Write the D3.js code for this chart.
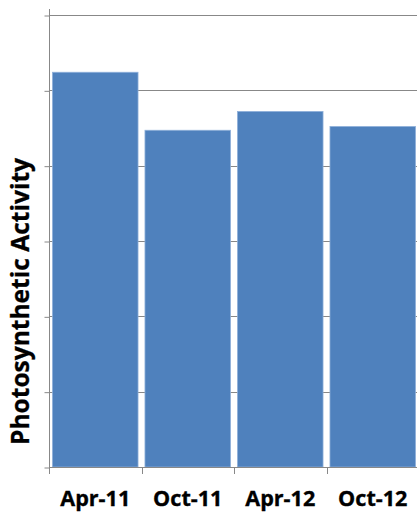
<!DOCTYPE html>
<html><head><meta charset="utf-8">
<script src="https://cdn.jsdelivr.net/npm/d3@7"></script>
<style>html,body{margin:0;padding:0;background:#fff;}</style>
</head><body>
<svg id="c" width="417" height="512"></svg>
<script>
const categories = ["Apr-11", "Oct-11", "Apr-12", "Oct-12"];
const values = [5.24, 4.47, 4.72, 4.52];
const yTicks = [0, 1, 2, 3, 4, 5, 6];
const yTitle = "Photosynthetic Activity";

(function () {
const svg = d3.select("#c");
const pl = 49, pr = 419, pt = 15, pb = 467;
const x = d3.scaleBand().domain(categories).range([pl, pr]).paddingInner(0.075).paddingOuter(0.0375);
const xb = d3.scaleBand().domain(categories).range([pl, pr]);
const y = d3.scaleLinear().domain([0, 6]).range([pb, pt]);
const grid = "#888888";
const font = "'Open Sans', Lato, sans-serif";

// gridlines
svg.append("g").selectAll("line").data(yTicks.filter(d => d > 0)).join("line")
  .attr("x1", pl).attr("x2", 417)
  .attr("y1", d => Math.round(y(d)) + 0.5).attr("y2", d => Math.round(y(d)) + 0.5)
  .attr("stroke", grid).attr("stroke-width", 1);

// bars
svg.append("g").selectAll("rect").data(values).join("rect")
  .attr("x", (d, i) => x(categories[i]))
  .attr("width", x.bandwidth())
  .attr("y", d => y(d))
  .attr("height", d => y(0) - y(d))
  .attr("fill", "#4F81BD")
  .attr("stroke", "#8fb0da").attr("stroke-width", 0.8);

// y axis
const yAxis = d3.axisLeft(y).tickValues(yTicks).tickSize(5).tickFormat("");
const gy = svg.append("g").attr("transform", `translate(${pl + 0.5},0.5)`).call(yAxis);
gy.select(".domain").remove();
gy.selectAll("line").attr("stroke", grid);
svg.append("line").attr("x1", pl + 0.5).attr("x2", pl + 0.5).attr("y1", 9).attr("y2", pb + 0.5).attr("stroke", grid);

// x axis
const boundaries = categories.map(c => xb(c));
const gx = svg.append("g");
gx.append("line").attr("x1", pl).attr("x2", 417).attr("y1", Math.round(y(0)) + 0.5).attr("y2", Math.round(y(0)) + 0.5).attr("stroke", grid);
gx.selectAll("line.t").data(boundaries).join("line").attr("class", "t")
  .attr("x1", d => Math.round(d) + 0.5).attr("x2", d => Math.round(d) + 0.5)
  .attr("y1", Math.round(y(0))).attr("y2", Math.round(y(0)) + 7)
  .attr("stroke", grid);
const xAxis = d3.axisBottom(xb).tickSize(0).tickPadding(0);
const gxl = svg.append("g").attr("transform", `translate(0,${pb})`).call(xAxis);
gxl.select(".domain").remove();
const xt = gxl.selectAll("text").attr("dy", null).attr("y", 39)
  .attr("font-family", font).attr("font-weight", "bold")
  .attr("font-size", 22).attr("fill", "#000").attr("text-anchor", "middle")
  .attr("stroke", "#000").attr("stroke-width", 0.35);
const w0 = xt.nodes()[0].getComputedTextLength();
const k = w0 > 0 ? 70 / w0 : 1;
xt.each(function () {
  const w = this.getComputedTextLength();
  d3.select(this).attr("textLength", (w * k).toFixed(1)).attr("lengthAdjust", "spacingAndGlyphs");
});

// y title
svg.append("text")
  .attr("transform", `translate(28.5,301.5) rotate(-90)`)
  .attr("text-anchor", "middle")
  .attr("font-family", font).attr("font-weight", "bold")
  .attr("font-size", 25).attr("fill", "#000")
  .attr("stroke", "#000").attr("stroke-width", 0.3)
  .attr("textLength", 287).attr("lengthAdjust", "spacingAndGlyphs")
  .text(yTitle);
})();
</script>
</body></html>
